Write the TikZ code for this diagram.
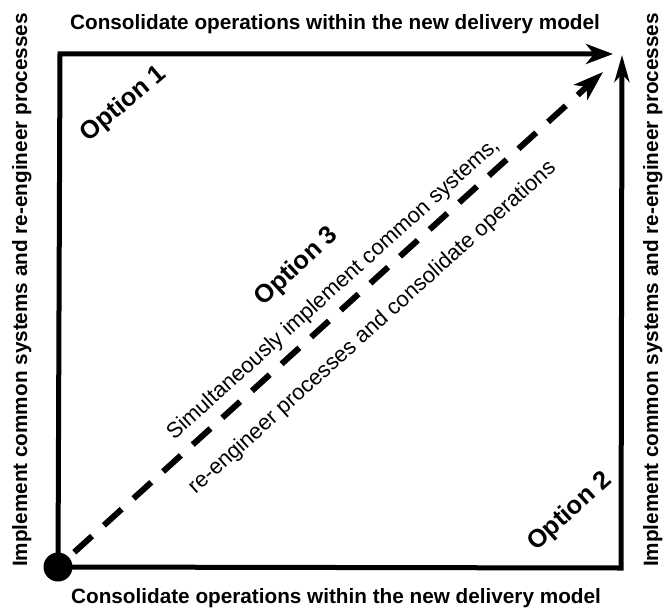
\documentclass[tikz,border=0pt]{standalone}
\usepackage{fontspec}
\setmainfont{Liberation Sans}
\usetikzlibrary{arrows.meta}
\begin{document}
\begin{tikzpicture}[x=1bp,y=-1bp,
  side/.style={font=\fontsize{20.8}{24}\selectfont\bfseries, inner sep=0pt},
  opt/.style={font=\fontsize{25.5}{28}\selectfont\bfseries, inner sep=0pt},
  diag/.style={font=\fontsize{22}{25}\selectfont, inner sep=0pt},
  solidline/.style={line width=5bp, line join=miter},
  head/.style={-{Stealth[length=27bp,width=#1,inset=8bp]}},
  dashline/.style={line width=6bp, dash pattern=on 24bp off 16bp, dash phase=18bp, -{Stealth[length=30bp,width=20bp,inset=8bp]}},
  dotstyle/.style={circle, fill=black, minimum size=29bp, inner sep=0pt}
]
\useasboundingbox (0,0) rectangle (665,610);
\fill[white] (0,0) rectangle (665,610);
\coordinate (o) at (58,567);
\coordinate (tl) at (60,54);
\coordinate (br) at (621,568);
\coordinate (ttop) at (613,54);
\coordinate (tright) at (622,55);
\coordinate (tdiag) at (603,72);
\draw[solidline, head=20bp] (o) -- (tl) -- (ttop);
\draw[solidline, head=15bp] (o) -- (br) -- (tright);
\draw[dashline] (o) -- (tdiag);
\node[dotstyle] (dot) at (o) {};
\node[side, anchor=base] (ttext) at (335,30) {Consolidate operations within the new delivery model};
\node[side, anchor=base] (btext) at (336,603) {Consolidate operations within the new delivery model};
\node[side, rotate=90, anchor=base] (ltext) at (27,290) {Implement common systems and re-engineer processes};
\node[side, rotate=90, anchor=base] (rtext) at (658,290) {Implement common systems and re-engineer processes};
\node[opt, rotate=40] (o1) at (124,104) {Option 1};
\node[opt, rotate=43] (o3) at (297,267) {Option 3};
\node[opt, rotate=42] (o2) at (570,512) {Option 2};
\node[diag, rotate=42] (d1) at (333.5,289.5) {Simultaneously implement common systems,};
\node[diag, rotate=42] (d2) at (372.5,328) {re-engineer processes and consolidate operations};
\end{tikzpicture}
\end{document}
